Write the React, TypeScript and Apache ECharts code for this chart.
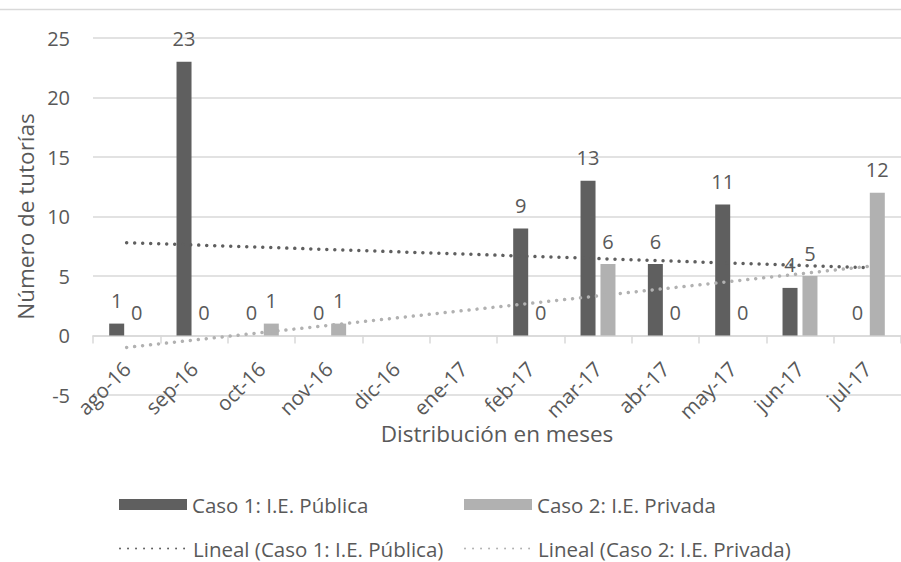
import React, { useEffect, useRef } from "react";
import * as echarts from "echarts";

const categories = ["ago-16", "sep-16", "oct-16", "nov-16", "dic-16", "ene-17", "feb-17", "mar-17", "abr-17", "may-17", "jun-17", "jul-17"];
const publica = [1, 23, 0, 0, null, null, 9, 13, 6, 11, 4, 0];
const privada = [0, 0, 1, 1, null, null, 0, 6, 0, 0, 5, 12];
// trend line end values (first and last month)
const trendPublica = [7.8, null, null, null, null, null, null, null, null, null, null, 5.7];
const trendPrivada = [-1.0, null, null, null, null, null, null, null, null, null, null, 5.8];
const yMin = -5;
const yMax = 25;
const yStep = 5;

const NAME_PUB = "Caso 1: I.E. Pública";
const NAME_PRI = "Caso 2: I.E. Privada";
const NAME_TPUB = "Lineal (Caso 1: I.E. Pública)";
const NAME_TPRI = "Lineal (Caso 2: I.E. Privada)";

const FONT = "'Open Sans', 'Noto Sans', sans-serif";
const TEXT = "#595959";
const DARK = "#5f5f5f";
const LIGHT = "#b1b1b1";
const GRID = "#d9d9d9";

export default function App() {
  const ref = useRef<HTMLDivElement>(null);
  useEffect(() => {
    if (!ref.current) return;
    const chart = echarts.init(ref.current, null, { renderer: "svg" });
    const legendBase = {
      padding: 0,
      itemWidth: 68,
      itemHeight: 11,
      textStyle: { fontSize: 20.5, color: TEXT, fontFamily: FONT },
      selectedMode: false,
    };
    const lineLegend = {
      ...legendBase,
      itemStyle: { opacity: 0, borderWidth: 0 },
    };
    const dotted = (color: string) => ({
      color,
      width: 3.5,
      type: [0.01, 8] as any,
      cap: "round" as any,
    });
    chart.setOption({
      animation: false,
      textStyle: { fontFamily: FONT },
      graphic: [
        {
          type: "line",
          shape: { x1: 0, y1: 9.5, x2: 901, y2: 9.5 },
          style: { stroke: GRID, lineWidth: 1.5 },
        },
      ],
      grid: { left: 93, top: 38, width: 812, height: 357, containLabel: false },
      legend: [
        { ...legendBase, data: [{ name: NAME_PUB, icon: "rect" }], left: 119, top: 494 },
        { ...legendBase, data: [{ name: NAME_PRI, icon: "rect" }], left: 464, top: 494 },
        { ...lineLegend, data: [{ name: NAME_TPUB }], left: 119, top: 538 },
        { ...lineLegend, data: [{ name: NAME_TPRI }], left: 464, top: 538 },
      ],
      xAxis: {
        type: "category",
        data: categories,
        axisLine: { onZero: true, lineStyle: { color: GRID, width: 1.5 } },
        axisTick: { show: true, length: 8, lineStyle: { color: GRID, width: 1.5 } },
        axisLabel: { rotate: 45, margin: -30, fontSize: 20.5, color: TEXT, fontFamily: FONT, interval: 0 },
        name: "Distribución en meses",
        nameLocation: "middle",
        nameGap: 27,
        nameMoveOverlap: false,
        nameTextStyle: { fontSize: 22.5, color: TEXT, fontFamily: FONT },
      },
      yAxis: {
        type: "value",
        min: yMin,
        max: yMax,
        interval: yStep,
        axisLine: { show: false },
        axisTick: { show: false },
        splitLine: { lineStyle: { color: GRID, width: 1.5 } },
        axisLabel: { margin: 23, fontSize: 20, color: TEXT, fontFamily: FONT },
        name: "Número de tutorías",
        nameLocation: "middle",
        nameGap: 56,
        nameMoveOverlap: false,
        nameTextStyle: { fontSize: 22.5, color: TEXT, fontFamily: FONT },
      },
      series: [
        {
          name: NAME_PUB,
          type: "bar",
          data: publica,
          barWidth: 15,
          barGap: "33%",
          itemStyle: { color: DARK },
          label: { show: true, position: "top", distance: 13, fontSize: 20, color: TEXT, fontFamily: FONT },
        },
        {
          name: NAME_PRI,
          type: "bar",
          data: privada,
          barWidth: 15,
          barGap: "33%",
          itemStyle: { color: LIGHT },
          label: { show: true, position: "top", distance: 13, fontSize: 20, color: TEXT, fontFamily: FONT },
        },
        {
          name: NAME_TPUB,
          type: "line",
          data: trendPublica,
          connectNulls: true,
          symbol: "none",
          lineStyle: dotted(DARK),
          itemStyle: { color: DARK },
          z: 5,
        },
        {
          name: NAME_TPRI,
          type: "line",
          data: trendPrivada,
          connectNulls: true,
          symbol: "none",
          lineStyle: dotted(LIGHT),
          itemStyle: { color: LIGHT },
          z: 5,
        },
      ],
    });
    return () => chart.dispose();
  }, []);
  return (
    <div
      ref={ref}
      style={{ position: "fixed", left: 0, top: 0, width: 901, height: 562, background: "#fff" }}
    />
  );
}
